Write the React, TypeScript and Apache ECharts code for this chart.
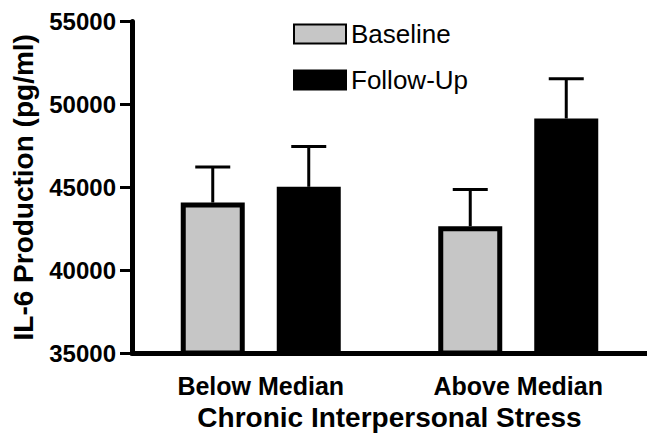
import React, { useEffect, useRef } from "react";
import * as echarts from "echarts";

const categories = ["Below Median", "Above Median"];
const baselineValues = [44080, 42650];
const followUpValues = [45030, 49150];
const baselineErrors = [2140, 2210];
const followUpErrors = [2430, 2400];
const yTicks = { min: 35000, max: 55000, interval: 5000 };

const FONT = "'Liberation Sans', Arial, Helvetica, sans-serif";
const BAR_W = 64;
const BAR_GAP_PX = 32;
const CAP_W = 35;

function errorSeries(name: string, values: number[], errs: number[], dir: number) {
  const offset = (dir * (BAR_W + BAR_GAP_PX)) / 2;
  return {
    type: "custom",
    name: name + " error",
    z: 1,
    silent: true,
    data: values.map((v, i) => [i, v, errs[i]]),
    encode: { x: 0, y: 1 },
    renderItem: (params: any, api: any) => {
      const i = api.value(0);
      const v = api.value(1);
      const e = api.value(2);
      const base = api.coord([i, v]);
      const top = api.coord([i, v + e]);
      const cx = base[0] + offset;
      return {
        type: "group",
        children: [
          {
            type: "line",
            shape: { x1: cx, y1: base[1], x2: cx, y2: top[1] },
            style: { stroke: "#000", lineWidth: 3 },
          },
          {
            type: "line",
            shape: { x1: cx - CAP_W / 2, y1: top[1], x2: cx + CAP_W / 2, y2: top[1] },
            style: { stroke: "#000", lineWidth: 3 },
          },
        ],
      };
    },
  };
}

export default function App() {
  const ref = useRef<HTMLDivElement>(null);
  useEffect(() => {
    if (!ref.current) return;
    const chart = echarts.init(ref.current, null, { renderer: "svg" });
    chart.setOption({
      animation: false,
      backgroundColor: "#fff",
      textStyle: { fontFamily: FONT, color: "#000" },
      legend: {
        orient: "vertical",
        left: 288,
        top: 16,
        itemWidth: 52,
        itemHeight: 19,
        itemGap: 20,
        data: ["Baseline", "Follow-Up"],
        textStyle: { fontFamily: FONT, fontSize: 26, color: "#000" },
        icon: "rect",
      },
      grid: { left: 132, top: 21.5, width: 516, height: 343.5, containLabel: false },
      xAxis: {
        type: "category",
        data: categories,
        name: "Chronic Interpersonal Stress",
        nameLocation: "middle",
        nameGap: 39,
        nameTextStyle: { fontFamily: FONT, fontSize: 28, fontWeight: "bold", color: "#000" },
        axisLine: { show: true, lineStyle: { color: "#000", width: 5 } },
        axisTick: { show: false },
        axisLabel: { margin: 20, fontFamily: FONT, fontSize: 25, fontWeight: "bold", color: "#000" },
        splitLine: { show: false },
      },
      yAxis: {
        type: "value",
        min: yTicks.min,
        max: yTicks.max,
        interval: yTicks.interval,
        name: "IL-6 Production (pg/ml)",
        nameLocation: "middle",
        nameGap: 95,
        nameTextStyle: { fontFamily: FONT, fontSize: 28, fontWeight: "bold", color: "#000" },
        axisLine: { show: true, lineStyle: { color: "#000", width: 5 } },
        axisTick: { show: true, length: 12, lineStyle: { color: "#000", width: 3 } },
        axisLabel: {
          margin: 16,
          fontFamily: FONT,
          fontSize: 24,
          fontWeight: "bold",
          color: "#000",
          formatter: (v: number) => String(v),
        },
        splitLine: { show: false },
      },
      series: [
        {
          type: "bar",
          name: "Baseline",
          data: baselineValues,
          barWidth: BAR_W,
          barGap: (BAR_GAP_PX / BAR_W) * 100 + "%",
          z: 2,
          itemStyle: { color: "#c6c6c6", borderColor: "#000", borderWidth: 5 },
        },
        {
          type: "bar",
          name: "Follow-Up",
          data: followUpValues,
          barWidth: BAR_W,
          barGap: (BAR_GAP_PX / BAR_W) * 100 + "%",
          z: 2,
          itemStyle: { color: "#000", borderColor: "#000", borderWidth: 5 },
        },
        errorSeries("Baseline", baselineValues, baselineErrors, -1),
        errorSeries("Follow-Up", followUpValues, followUpErrors, 1),
      ],
    });
    return () => chart.dispose();
  }, []);
  return (
    <div
      ref={ref}
      style={{ position: "fixed", left: 0, top: 0, width: 647, height: 436, background: "#fff" }}
    />
  );
}
